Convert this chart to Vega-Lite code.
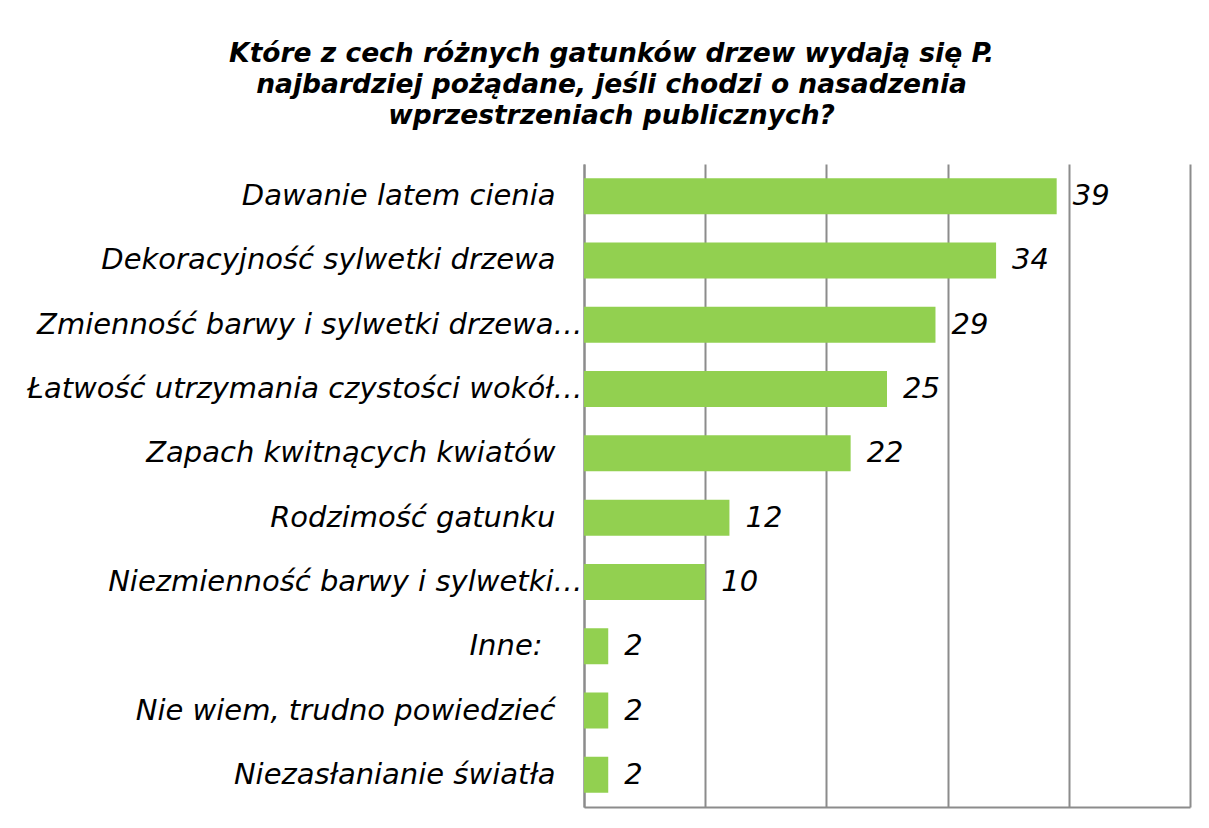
{
  "$schema": "https://vega.github.io/schema/vega-lite/v6.json",
  "width": 606,
  "height": 643,
  "autosize": {"type": "none"},
  "padding": {"left": 584, "top": 164, "right": 19, "bottom": 21},
  "background": "white",
  "title": {
    "text": ["Które z cech różnych gatunków drzew wydają się P.", "najbardziej pożądane, jeśli chodzi o nasadzenia", "wprzestrzeniach publicznych?"],
    "font": "DejaVu Sans",
    "fontSize": 26.5,
    "fontWeight": "bold",
    "fontStyle": "italic",
    "color": "black",
    "anchor": "middle",
    "frame": "bounds",
    "offset": 35,
    "lineHeight": 31,
    "dx": 3
  },
  "data": {
    "values": [
      {"cecha": "Dawanie latem cienia", "procent": 39},
      {"cecha": "Dekoracyjność sylwetki drzewa", "procent": 34},
      {"cecha": "Zmienność barwy i sylwetki drzewa…", "procent": 29},
      {"cecha": "Łatwość utrzymania czystości wokół…", "procent": 25},
      {"cecha": "Zapach kwitnących kwiatów", "procent": 22},
      {"cecha": "Rodzimość gatunku", "procent": 12},
      {"cecha": "Niezmienność barwy i sylwetki…", "procent": 10},
      {"cecha": "Inne:", "procent": 2},
      {"cecha": "Nie wiem, trudno powiedzieć", "procent": 2},
      {"cecha": "Niezasłanianie światła", "procent": 2}
    ]
  },
  "encoding": {
    "y": {
      "field": "cecha",
      "type": "nominal",
      "sort": null,
      "scale": {"paddingInner": 0.44, "paddingOuter": 0.22},
      "axis": {
        "title": null,
        "ticks": false,
        "domain": true,
        "domainColor": "#8c8c8c",
        "domainWidth": 2,
        "labelFont": "DejaVu Sans",
        "labelFontSize": 29,
        "labelFontStyle": "italic",
        "labelColor": "black",
        "labelLimit": 700,
        "labelPadding": {
          "condition": [
            {"test": "indexof(datum.label, '…') >= 0", "value": 2},
            {"test": "datum.label == 'Inne:'", "value": 42}
          ],
          "value": 29
        }
      }
    },
    "x": {
      "field": "procent",
      "type": "quantitative",
      "scale": {"domain": [0, 50], "nice": false},
      "axis": {
        "title": null,
        "values": [0, 10, 20, 30, 40, 50],
        "labels": false,
        "ticks": false,
        "domain": true,
        "domainColor": "#8c8c8c",
        "domainWidth": 2,
        "grid": true,
        "gridColor": "#8c8c8c",
        "gridWidth": 2,
        "gridOpacity": 1
      }
    }
  },
  "layer": [
    {"mark": {"type": "bar", "color": "#92D050"}},
    {
      "mark": {
        "type": "text",
        "align": "left",
        "baseline": "middle",
        "dx": 16,
        "font": "DejaVu Sans",
        "fontSize": 29,
        "fontStyle": "italic",
        "color": "black"
      },
      "encoding": {"text": {"field": "procent", "type": "quantitative"}}
    }
  ],
  "config": {"view": {"stroke": null}}
}
